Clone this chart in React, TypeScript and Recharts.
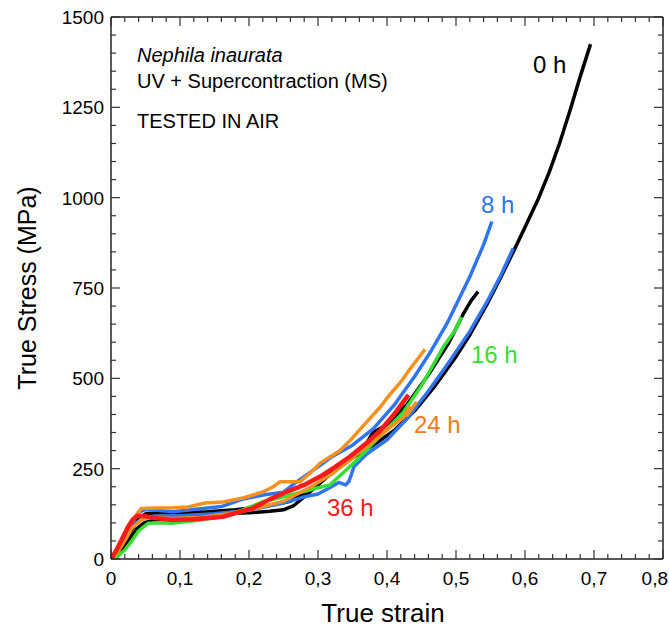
import { LineChart, Line, XAxis, YAxis, ReferenceLine } from 'recharts';

// 0 h (two specimens)
const strain0hA = [0, 0.008, 0.018, 0.028, 0.038, 0.048, 0.06, 0.08, 0.1, 0.13, 0.16, 0.2, 0.23, 0.25, 0.265, 0.28, 0.3, 0.32, 0.35, 0.38, 0.41, 0.44, 0.47, 0.5, 0.52, 0.545, 0.565, 0.583, 0.6, 0.62, 0.635, 0.65, 0.665, 0.68, 0.695];
const stress0hA = [0, 8, 25, 55, 85, 100, 108, 112, 115, 120, 125, 128, 132, 136, 148, 172, 205, 238, 280, 315, 355, 410, 480, 560, 620, 705, 780, 850, 918, 1000, 1070, 1150, 1240, 1335, 1425];
const strain0hB = [0, 0.01, 0.02, 0.03, 0.04, 0.05, 0.07, 0.1, 0.14, 0.18, 0.22, 0.26, 0.29, 0.32, 0.35, 0.37, 0.38, 0.4, 0.43, 0.46, 0.49, 0.511, 0.522, 0.532];
const stress0hB = [0, 12, 40, 80, 112, 125, 128, 128, 131, 136, 145, 160, 195, 240, 285, 320, 350, 372, 430, 510, 600, 680, 715, 740];

// 8 h
const strain8hA = [0, 0.01, 0.02, 0.03, 0.04, 0.05, 0.07, 0.09, 0.12, 0.16, 0.19, 0.22, 0.25, 0.27, 0.3, 0.32, 0.35, 0.38, 0.41, 0.44, 0.462, 0.487, 0.52, 0.54, 0.552];
const stress8hA = [0, 25, 60, 100, 130, 137, 134, 131, 137, 145, 165, 177, 185, 215, 255, 283, 315, 360, 425, 505, 570, 652, 781, 870, 934];
const strain8hB = [0, 0.01, 0.02, 0.03, 0.045, 0.06, 0.1, 0.15, 0.2, 0.25, 0.28, 0.3, 0.315, 0.33, 0.34, 0.345, 0.352, 0.37, 0.4, 0.43, 0.46, 0.49, 0.52, 0.545, 0.565, 0.583];
const stress8hB = [0, 20, 55, 90, 112, 118, 120, 125, 135, 155, 172, 180, 195, 212, 205, 215, 255, 290, 330, 390, 465, 545, 630, 712, 785, 860];

// 16 h
const strain16h = [0, 0.01, 0.02, 0.03, 0.04, 0.054, 0.07, 0.088, 0.12, 0.162, 0.19, 0.221, 0.25, 0.278, 0.3, 0.317, 0.34, 0.361, 0.39, 0.423, 0.45, 0.482, 0.499, 0.508];
const stress16h = [0, 8, 25, 50, 78, 99, 100, 99, 106, 117, 135, 159, 172, 186, 197, 205, 245, 283, 340, 404, 480, 588, 634, 670];

// 24 h (two specimens)
const strain24hA = [0, 0.01, 0.02, 0.03, 0.044, 0.064, 0.09, 0.112, 0.136, 0.162, 0.19, 0.221, 0.235, 0.245, 0.274, 0.29, 0.303, 0.332, 0.35, 0.371, 0.39, 0.404, 0.42, 0.433, 0.445, 0.455];
const stress24hA = [0, 25, 60, 105, 140, 141, 142, 144, 155, 158, 168, 186, 200, 214, 214, 240, 265, 300, 335, 380, 420, 455, 490, 525, 555, 580];
const strain24hB = [0, 0.01, 0.02, 0.03, 0.045, 0.06, 0.09, 0.13, 0.17, 0.21, 0.25, 0.29, 0.32, 0.35, 0.38, 0.405, 0.424, 0.432, 0.429, 0.443];
const stress24hB = [0, 20, 50, 85, 110, 115, 112, 115, 125, 140, 160, 200, 235, 280, 325, 365, 392, 420, 398, 435];

// 36 h
const strain36h = [0, 0.008, 0.016, 0.025, 0.032, 0.039, 0.05, 0.07, 0.088, 0.12, 0.162, 0.206, 0.23, 0.255, 0.28, 0.303, 0.325, 0.346, 0.37, 0.39, 0.41, 0.431];
const stress36h = [0, 25, 55, 90, 110, 120, 118, 112, 108, 110, 117, 141, 165, 186, 205, 228, 255, 283, 320, 355, 400, 454];

const xMajorTicks = [0, 0.1, 0.2, 0.3, 0.4, 0.5, 0.6, 0.7, 0.8];
const yMajorTicks = [0, 250, 500, 750, 1000, 1250, 1500];

const FONT = 'Liberation Sans, Arial, sans-serif';
const PLOT = { left: 111, right: 663, top: 17, bottom: 559 };

const xTicks: number[] = [];
for (let i = 0; i <= 40; i++) xTicks.push(Math.round(i * 2) / 100);
const yTicks: number[] = [];
for (let i = 0; i <= 30; i++) yTicks.push(i * 50);

const toPoints = (xs: number[], ys: number[]) => xs.map((x, i) => ({ x, y: ys[i] }));

const series = [
  { key: '0hA', data: toPoints(strain0hA, stress0hA), color: '#000000', width: 3.5 },
  { key: '0hB', data: toPoints(strain0hB, stress0hB), color: '#000000', width: 3.5 },
  { key: '8hA', data: toPoints(strain8hA, stress8hA), color: '#2f74f0', width: 3.5 },
  { key: '8hB', data: toPoints(strain8hB, stress8hB), color: '#2f74f0', width: 3.5 },
  { key: '16h', data: toPoints(strain16h, stress16h), color: '#33e033', width: 3.5 },
  { key: '24hA', data: toPoints(strain24hA, stress24hA), color: '#f7901e', width: 3.5 },
  { key: '24hB', data: toPoints(strain24hB, stress24hB), color: '#f7901e', width: 3.5 },
  { key: '36h', data: toPoints(strain36h, stress36h), color: '#ff1a1a', width: 4.5 },
];

const isMajor = (v: number, majors: number[]) => majors.some((m) => Math.abs(m - v) < 1e-6);

function XTick({ x, payload }: any) {
  const major = isMajor(payload.value, xMajorTicks);
  const len = major ? 9 : 5;
  const last = Math.abs(payload.value - 0.8) < 1e-6;
  return (
    <g>
      <line x1={x} x2={x} y1={PLOT.bottom} y2={PLOT.bottom - len} stroke="#333" strokeWidth={1.2} />
      <line x1={x} x2={x} y1={PLOT.top} y2={PLOT.top + len} stroke="#333" strokeWidth={1.2} />
      {major && (
        <text
          x={last ? 668 : x}
          y={PLOT.bottom + 26}
          textAnchor={last ? 'end' : 'middle'}
          fontSize={19}
          fontFamily={FONT}
          fill="#000"
        >
          {String(payload.value).replace('.', ',')}
        </text>
      )}
    </g>
  );
}

function YTick({ y, payload }: any) {
  const major = isMajor(payload.value, yMajorTicks);
  const len = major ? 9 : 5;
  return (
    <g>
      <line x1={PLOT.left} x2={PLOT.left + len} y1={y} y2={y} stroke="#333" strokeWidth={1.2} />
      <line x1={PLOT.right} x2={PLOT.right - len} y1={y} y2={y} stroke="#333" strokeWidth={1.2} />
      {major && (
        <text x={PLOT.left - 7} y={y + 7} textAnchor="end" fontSize={19} fontFamily={FONT} fill="#000">
          {payload.value}
        </text>
      )}
    </g>
  );
}

export default function App() {
  return (
    <div style={{ position: 'absolute', left: 0, top: 0, width: 669, height: 634, background: '#fff' }}>
      <LineChart width={669} height={634} margin={{ top: 17, right: 6, bottom: 0, left: 0 }}>
        <XAxis
          type="number"
          dataKey="x"
          domain={[0, 0.8]}
          ticks={xTicks}
          interval={0}
          allowDataOverflow
          height={75}
          tickLine={false}
          tickMargin={0}
          tick={<XTick />}
          axisLine={{ stroke: '#222', strokeWidth: 1.5 }}
        />
        <YAxis
          type="number"
          dataKey="y"
          domain={[0, 1500]}
          ticks={yTicks}
          interval={0}
          allowDataOverflow
          width={111}
          tickLine={false}
          tickMargin={0}
          tick={<YTick />}
          axisLine={{ stroke: '#222', strokeWidth: 1.5 }}
        />
        <ReferenceLine y={1500} stroke="#222" strokeWidth={1.5} />
        <ReferenceLine x={0.8} stroke="#222" strokeWidth={1.5} />
        {series.map((s) => (
          <Line
            key={s.key}
            data={s.data}
            dataKey="y"
            type="linear"
            stroke={s.color}
            strokeWidth={s.width}
            strokeLinejoin="round"
            dot={false}
            activeDot={false}
            isAnimationActive={false}
          />
        ))}
        <text x={137} y={62} fontSize={20} fontStyle="italic" fontFamily={FONT} fill="#000">Nephila inaurata</text>
        <text x={137} y={88} fontSize={20} fontFamily={FONT} fill="#000">UV + Supercontraction (MS)</text>
        <text x={137} y={128} fontSize={20} fontFamily={FONT} fill="#000">TESTED IN AIR</text>
        <text x={533} y={73} fontSize={24} fontFamily={FONT} fill="#000">0 h</text>
        <text x={481} y={213} fontSize={24} fontFamily={FONT} fill="#2f74f0">8 h</text>
        <text x={471} y={363} fontSize={24} fontFamily={FONT} fill="#33e033">16 h</text>
        <text x={414} y={433} fontSize={24} fontFamily={FONT} fill="#f07a20">24 h</text>
        <text x={327} y={516} fontSize={24} fontFamily={FONT} fill="#ff1a1a">36 h</text>
        <text x={383} y={622} textAnchor="middle" fontSize={26} fontFamily={FONT} fill="#000">True strain</text>
        <text
          x={36}
          y={288}
          textAnchor="middle"
          fontSize={25}
          fontFamily={FONT}
          fill="#000"
          transform="rotate(-90 36 288)"
        >
          True Stress (MPa)
        </text>
      </LineChart>
    </div>
  );
}
